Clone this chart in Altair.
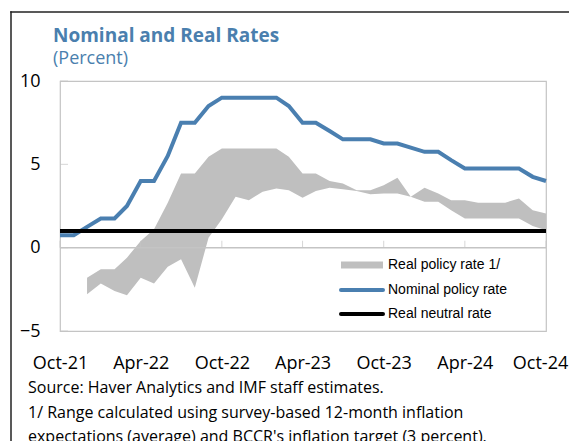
import altair as alt
import pandas as pd

# ---------------- data ----------------
months = [
    "2021-10", "2021-11", "2021-12", "2022-01", "2022-02", "2022-03", "2022-04",
    "2022-05", "2022-06", "2022-07", "2022-08", "2022-09", "2022-10", "2022-11",
    "2022-12", "2023-01", "2023-02", "2023-03", "2023-04", "2023-05", "2023-06",
    "2023-07", "2023-08", "2023-09", "2023-10", "2023-11", "2023-12", "2024-01",
    "2024-02", "2024-03", "2024-04", "2024-05", "2024-06", "2024-07", "2024-08",
    "2024-09", "2024-10",
]
nominal_rate = [
    0.75, 0.75, 1.25, 1.75, 1.75, 2.5, 4.0, 4.0, 5.5, 7.5, 7.5, 8.5, 9.0, 9.0,
    9.0, 9.0, 9.0, 8.5, 7.5, 7.5, 7.0, 6.5, 6.5, 6.5, 6.25, 6.25, 6.0, 5.75,
    5.75, 5.25, 4.75, 4.75, 4.75, 4.75, 4.75, 4.25, 4.0,
]
real_upper = [
    None, None, -1.8, -1.3, -1.3, -0.6, 0.4, 1.1, 2.7, 4.45, 4.45, 5.45, 5.95,
    5.95, 5.95, 5.95, 5.95, 5.45, 4.45, 4.45, 4.0, 3.85, 3.45, 3.45, 3.75, 4.2,
    3.05, 3.6, 3.25, 2.85, 2.85, 2.7, 2.7, 2.7, 2.95, 2.25, 2.05,
]
real_lower = [
    None, None, -2.8, -2.15, -2.6, -2.85, -1.8, -2.15, -1.15, -0.7, -2.4, 0.6,
    1.7, 3.05, 2.85, 3.35, 3.55, 3.45, 3.0, 3.4, 3.6, 3.5, 3.4, 3.2, 3.25, 3.25,
    3.05, 2.75, 2.75, 2.25, 1.75, 1.75, 1.75, 1.75, 1.75, 1.3, 1.05,
]
neutral_rate = 1.0

tick_months = [(2021, 10), (2022, 4), (2022, 10), (2023, 4), (2023, 10), (2024, 4), (2024, 10)]
y_ticks = [-5, 0, 5, 10]

title_text = "Nominal and Real Rates"
subtitle_text = "(Percent)"
legend_labels = ["Real policy rate 1/", "Nominal policy rate", "Real neutral rate"]
notes = [
    "Source: Haver Analytics and IMF staff estimates.",
    "1/ Range calculated using survey-based 12-month inflation",
    "expectations (average) and BCCR's inflation target (3 percent).",
]

# ---------------- styles ----------------
BLUE = "#4a7fb0"
GRAY = "#bfbfbf"
FRAME = "#c4c4c4"
TITLE_COLOR = "#4a7fae"
FONT = "Open Sans"

df = pd.DataFrame({
    "date": [m + "-01T00:00:00" for m in months],
    "nominal": nominal_rate,
    "upper": real_upper,
    "lower": real_lower,
})

x_scale = alt.Scale(domain=[alt.DateTime(year=2021, month=10, date=1),
                            alt.DateTime(year=2024, month=10, date=1)])
y_scale = alt.Scale(domain=[-5, 10], nice=False, zero=False)

x_axis = alt.Axis(
    values=[alt.DateTime(year=y, month=m, date=1) for y, m in tick_months],
    format="%b-%y", title=None, domain=False, ticks=False, grid=False,
    labelFont=FONT, labelFontSize=18, labelColor="black", labelPadding=23,
    labelOverlap=False, labelFlush=False,
    labelOffset={"condition": {"test": "datum.value > time(datetime(2024, 8, 1))", "value": -6},
                 "value": 0},
)
y_axis = alt.Axis(
    values=y_ticks, title=None, domain=False, ticks=False, grid=False,
    labelFont=FONT, labelFontSize=18, labelColor="black", labelPadding=20,
)

band = alt.Chart(df).mark_area(color=GRAY, opacity=1).encode(
    x=alt.X("date:T", scale=x_scale, axis=x_axis),
    y=alt.Y("lower:Q", scale=y_scale, axis=y_axis),
    y2="upper:Q",
)

zero_line = alt.Chart(pd.DataFrame({"z": [0]})).mark_rule(
    color=FRAME, strokeWidth=1.5
).encode(y=alt.Y("z:Q", scale=y_scale, axis=y_axis))

tick_df = pd.DataFrame({"d": ["%d-%02d-01T00:00:00" % (y, m) for y, m in tick_months]})
x_ticks = alt.Chart(tick_df).mark_tick(
    orient="vertical", size=7, thickness=1, color=FRAME, yOffset=-3.5
).encode(
    x=alt.X("d:T", scale=x_scale, axis=x_axis),
    y=alt.Y(datum=0, scale=y_scale, axis=y_axis),
)

y_tick_marks = alt.Chart(pd.DataFrame({"v": y_ticks})).mark_tick(
    orient="horizontal", size=8, thickness=1, color=FRAME
).encode(
    y=alt.Y("v:Q", scale=y_scale, axis=y_axis),
    x=alt.value(4),
)

nominal_line = alt.Chart(df).mark_line(color=BLUE, strokeWidth=4).encode(
    x=alt.X("date:T", scale=x_scale, axis=x_axis),
    y=alt.Y("nominal:Q", scale=y_scale, axis=y_axis),
)

neutral_line = alt.Chart(pd.DataFrame({"v": [neutral_rate]})).mark_rule(
    color="black", strokeWidth=4
).encode(y=alt.Y("v:Q", scale=y_scale, axis=y_axis))

one = pd.DataFrame({"a": [0]})

# titles
title_layer = alt.Chart(pd.DataFrame({"t": [title_text]})).mark_text(
    align="left", baseline="alphabetic", font=FONT, fontSize=19,
    fontWeight="bold", color=TITLE_COLOR,
).encode(text="t:N", x=alt.value(-7), y=alt.value(-39.5))

subtitle_layer = alt.Chart(pd.DataFrame({"t": [subtitle_text]})).mark_text(
    align="left", baseline="alphabetic", font=FONT, fontSize=18,
    color=TITLE_COLOR,
).encode(text="t:N", x=alt.value(-7), y=alt.value(-17))

# legend (manual)
legend_rows_y = [184, 209, 233]
leg_rect = alt.Chart(one).mark_rect(color=GRAY).encode(
    x=alt.value(281), x2=alt.value(323),
    y=alt.value(legend_rows_y[0] - 3.5), y2=alt.value(legend_rows_y[0] + 3.5),
)
leg_blue = alt.Chart(one).mark_rule(color=BLUE, strokeWidth=4, strokeCap="round").encode(
    x=alt.value(281), x2=alt.value(323), y=alt.value(legend_rows_y[1]),
)
leg_black = alt.Chart(one).mark_rule(color="black", strokeWidth=4, strokeCap="round").encode(
    x=alt.value(281), x2=alt.value(323), y=alt.value(legend_rows_y[2]),
)
leg_texts = [
    alt.Chart(pd.DataFrame({"t": [lab]})).mark_text(
        align="left", baseline="middle", font="Liberation Sans", fontSize=14,
        color="black",
    ).encode(text="t:N", x=alt.value(328), y=alt.value(yy))
    for lab, yy in zip(legend_labels, legend_rows_y)
]

# notes
note_layers = [
    alt.Chart(pd.DataFrame({"t": [txt]})).mark_text(
        align="left", baseline="alphabetic", font=FONT, fontSize=16, color="black",
    ).encode(text="t:N", x=alt.value(-32), y=alt.value(yy))
    for txt, yy in zip(notes, [312, 336.5, 361])
]

# outer frame lines
frame_left = alt.Chart(one).mark_rect(color="#222222").encode(
    x=alt.value(-49.75), x2=alt.value(-48.25), y=alt.value(-69.75), y2=alt.value(400),
)
frame_top_a = alt.Chart(one).mark_rule(color="#222222", strokeWidth=1.5).encode(
    y=alt.value(-69),
)
frame_top_b = alt.Chart(one).mark_rect(color="#222222").encode(
    x=alt.value(-49.75), x2=alt.value(0), y=alt.value(-69.75), y2=alt.value(-68.25),
)
frame_top_c = alt.Chart(one).mark_rect(color="#222222").encode(
    x=alt.value(486), x2=alt.value(509), y=alt.value(-69.75), y2=alt.value(-68.25),
)

chart = alt.layer(
    frame_left,
    band, zero_line, x_ticks, y_tick_marks, nominal_line, neutral_line,
    title_layer, subtitle_layer, leg_rect, leg_blue, leg_black, *leg_texts,
    *note_layers, frame_top_a, frame_top_b, frame_top_c,
).properties(
    width=486, height=250,
    padding={"left": 52, "top": 73, "right": 23, "bottom": 110},
    autosize=alt.AutoSizeParams(type="none"),
    background="white",
).configure_view(stroke=FRAME, strokeWidth=1.2)

chart.save("out.html", embed_options={"renderer": "svg", "actions": False})
